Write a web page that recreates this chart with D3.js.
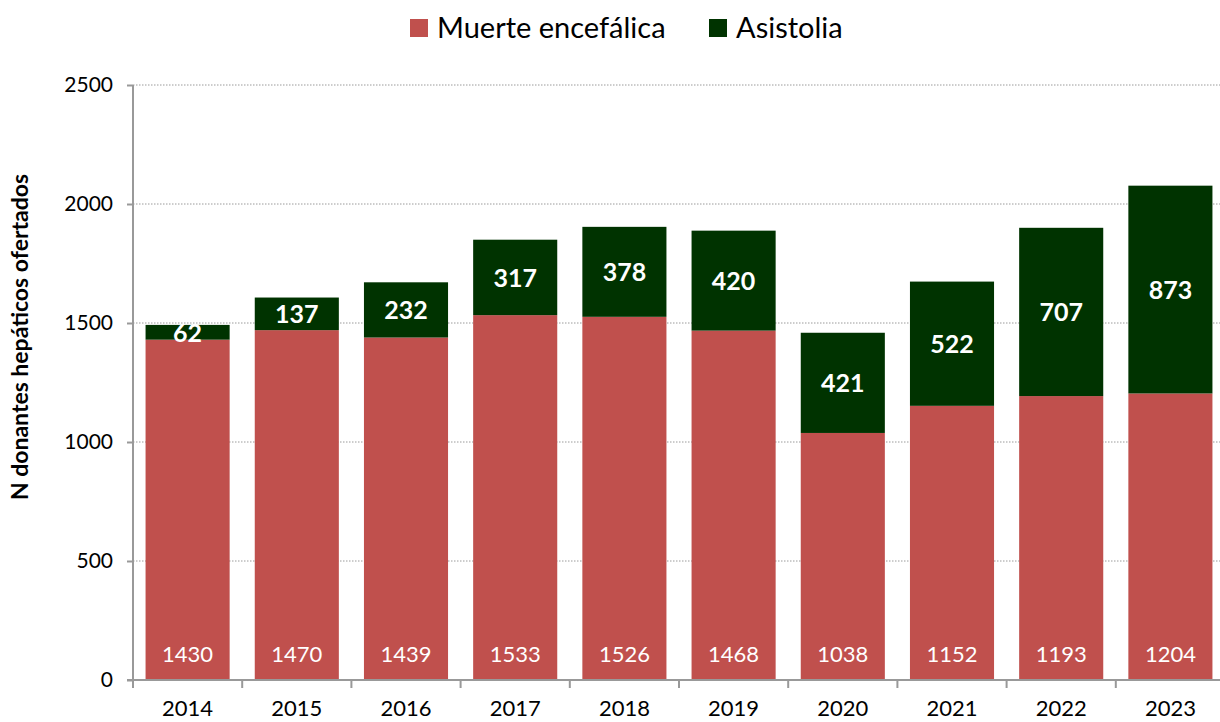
<!DOCTYPE html>
<html><head><meta charset="utf-8">
<script src="https://cdn.jsdelivr.net/npm/d3@7"></script>
<style>body{margin:0;background:#fff}svg{display:block}text{font-family:Lato,"Liberation Sans",sans-serif}</style>
</head><body>
<svg id="c" width="1220" height="722"></svg>
<script>
const years = ["2014","2015","2016","2017","2018","2019","2020","2021","2022","2023"];
const muerteEncefalica = [1430,1470,1439,1533,1526,1468,1038,1152,1193,1204];
const asistolia = [62,137,232,317,378,420,421,522,707,873];
const yTicks = [0,500,1000,1500,2000,2500];
const seriesNames = ["Muerte encefálica","Asistolia"];
const colors = ["#C0504D","#003300"];

const svg = d3.select("#c");
const x = d3.scaleBand().domain(years).range([133,1225]).paddingInner(0.23).paddingOuter(0.115);
const y = d3.scaleLinear().domain([0,2500]).range([680,85]);

// gridlines
svg.append("g").selectAll("line").data(yTicks.filter(d=>d>0)).join("line")
  .attr("x1",133).attr("x2",1220).attr("y1",d=>y(d)).attr("y2",d=>y(d))
  .attr("stroke","#9a9a9a").attr("stroke-width",1).attr("stroke-dasharray","1.5,1.5");

const data = years.map((yr,i)=>({yr, a:muerteEncefalica[i], b:asistolia[i]}));
// bars
svg.append("g").selectAll("rect").data(data).join("rect")
  .attr("x",d=>x(d.yr)).attr("width",x.bandwidth())
  .attr("y",d=>y(d.a)).attr("height",d=>y(0)-y(d.a)).attr("fill",colors[0]);
svg.append("g").selectAll("rect").data(data).join("rect")
  .attr("x",d=>x(d.yr)).attr("width",x.bandwidth())
  .attr("y",d=>y(d.a+d.b)).attr("height",d=>y(d.a)-y(d.a+d.b)).attr("fill",colors[1]);

// axes
const yAxis = d3.axisLeft(y).tickValues(yTicks).tickFormat(d3.format("d")).tickSize(6).tickPadding(14);
const gy = svg.append("g").attr("transform","translate(133,0)").call(yAxis);
gy.select(".domain").attr("stroke","#999").attr("stroke-width",2).attr("d","M0,85V680");
gy.selectAll(".tick line").attr("stroke","#999").attr("stroke-width",2);
gy.selectAll("text").attr("font-size",21).attr("fill","#000");

const xb = d3.scaleLinear().domain([0,10]).range([133,1225]);
svg.append("line").attr("x1",127).attr("x2",1220).attr("y1",680).attr("y2",680).attr("stroke","#999").attr("stroke-width",2);
svg.append("g").selectAll("line").data(d3.range(0,10)).join("line")
  .attr("x1",d=>xb(d)).attr("x2",d=>xb(d)).attr("y1",680).attr("y2",688)
  .attr("stroke","#999").attr("stroke-width",2);
svg.append("g").selectAll("text").data(years).join("text")
  .attr("x",d=>x(d)+x.bandwidth()/2).attr("y",716).attr("text-anchor","middle")
  .attr("font-size",22).attr("fill","#000").text(d=>d);

// labels
svg.append("g").selectAll("text").data(data).join("text")
  .attr("x",d=>x(d.yr)+x.bandwidth()/2).attr("y",y(110)).attr("dy",3).attr("text-anchor","middle")
  .attr("dominant-baseline","middle").attr("font-size",22).attr("fill","#fff").text(d=>d.a);
svg.append("g").selectAll("text").data(data).join("text")
  .attr("x",d=>x(d.yr)+x.bandwidth()/2).attr("y",d=>y(d.a+d.b/2)).attr("dy",3).attr("text-anchor","middle")
  .attr("dominant-baseline","middle").attr("font-size",25).attr("font-weight","bold").attr("fill","#fff").text(d=>d.b);

// y title
svg.append("text").attr("transform","translate(28,337) rotate(-90)").attr("text-anchor","middle")
  .attr("font-size",23).attr("font-weight","bold").attr("fill","#000").text("N donantes hepáticos ofertados");

// legend
const leg = svg.append("g");
const lx = [410,709];
seriesNames.forEach((n,i)=>{
  leg.append("rect").attr("x",lx[i]).attr("y",19).attr("width",18).attr("height",18).attr("fill",colors[i]);
  leg.append("text").attr("x",lx[i]+27).attr("y",38).attr("font-size",29).attr("fill","#000").text(n);
});
</script>
</body></html>
